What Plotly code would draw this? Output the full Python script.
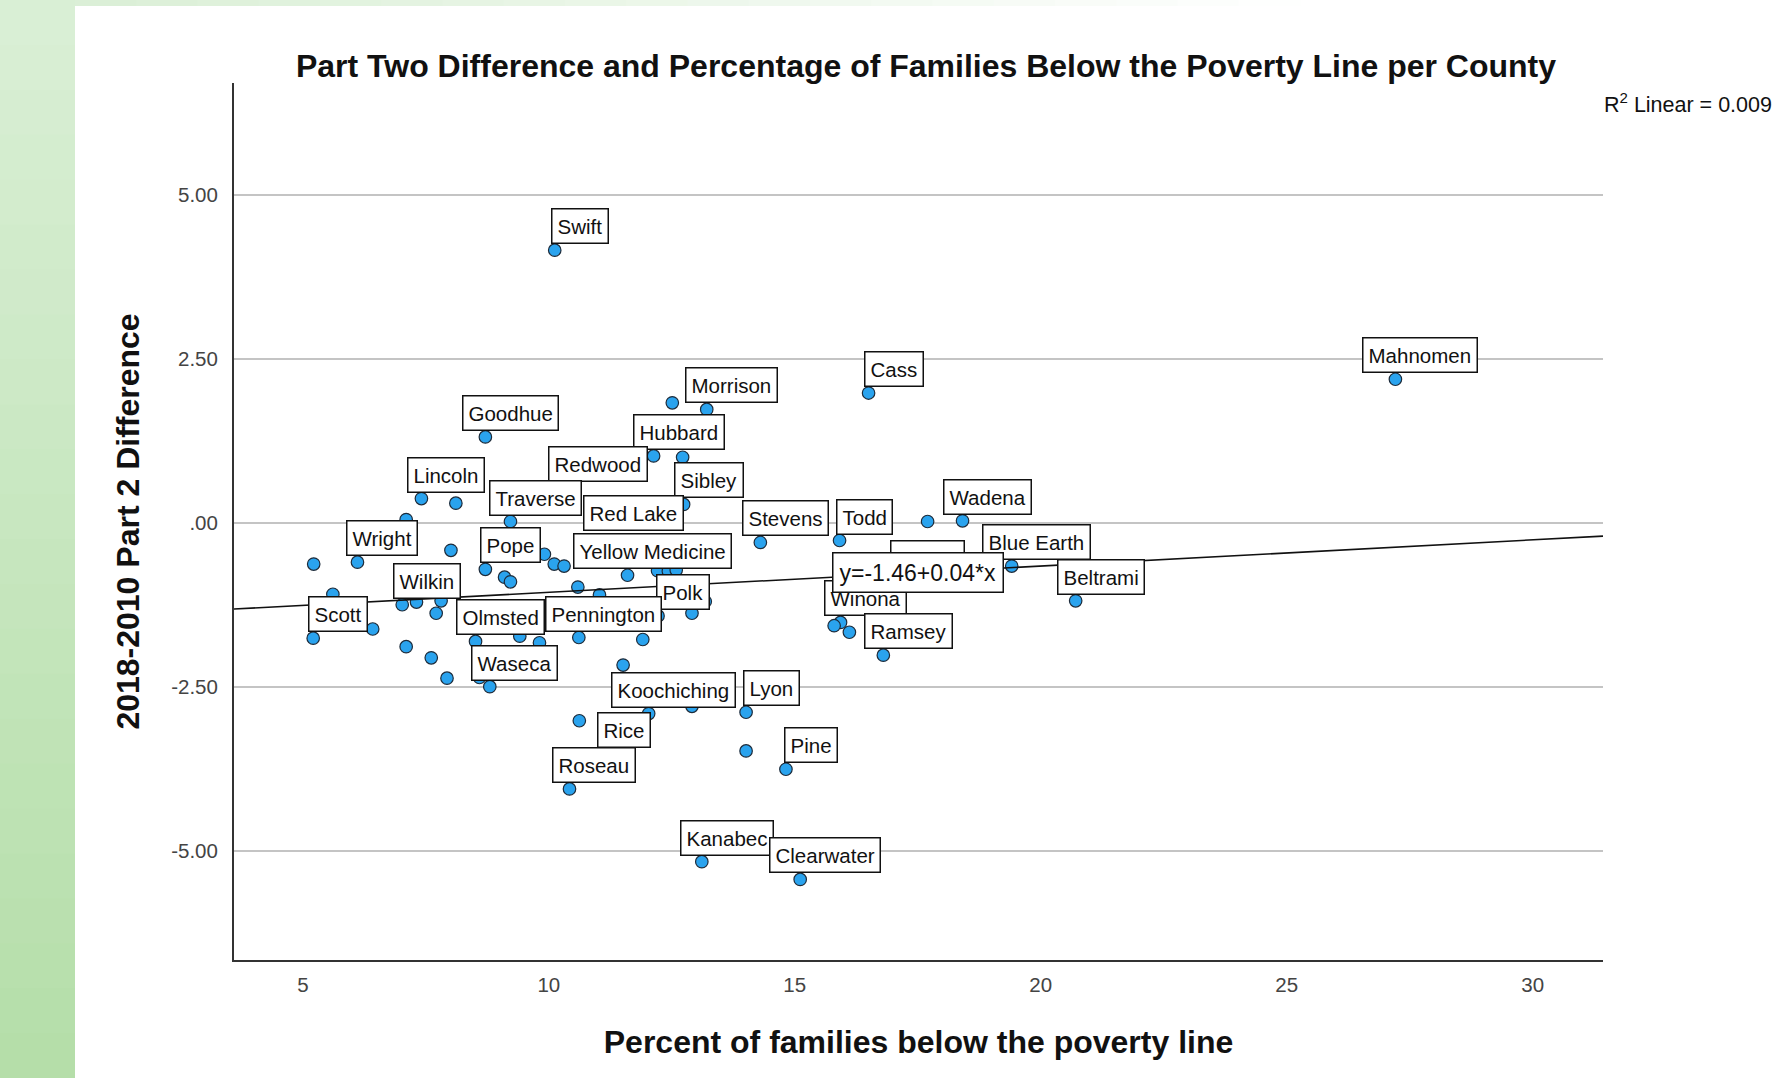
import plotly.graph_objects as go

# ---------------- data ----------------
county_labels = [
    "Swift", "Mahnomen", "Cass", "", "Morrison", "Goodhue", "Hubbard", "", "Redwood",
    "Lincoln", "", "Sibley", "", "Traverse", "", "Wadena", "Red Lake", "Todd", "Stevens",
    "", "", "Wright", "", "", "", "Blue Earth", "Pope", "", "", "", "Yellow Medicine",
    "", "", "\u00a0", "", "", "", "Beltrami", "", "", "", "Wilkin", "", "", "Polk",
    "Winona", "", "", "", "", "Pennington", "Scott", "", "Olmsted", "", "", "Ramsey",
    "", "", "", "", "Waseca", "", "Lyon", "Koochiching", "", "Rice", "", "Pine",
    "Roseau", "Kanabec", "Clearwater",
]
poverty_pct = [
    10.12, 27.21, 16.50, 12.51, 13.21, 8.71, 12.13, 12.72, 10.49,
    7.41, 8.11, 12.74, 7.10, 9.22, 17.70, 18.41, 11.21, 15.91, 14.30,
    8.01, 9.91, 6.11, 5.22, 10.11, 10.31, 19.41, 8.71, 12.21, 12.43, 12.59, 11.60,
    9.10, 9.22, 17.19, 10.59, 5.61, 11.03, 20.71, 7.81, 7.31, 13.18, 7.02, 7.71, 12.91, 12.22,
    15.93, 15.80, 6.42, 16.11, 9.41, 10.61, 5.21, 11.91, 8.51, 9.81, 7.10, 16.80,
    7.61, 11.51, 8.59, 7.93, 8.80, 12.91, 14.01, 12.03, 10.62, 11.02, 14.01, 14.82,
    10.42, 13.11, 15.11,
]
part2_diff = [
    4.16, 2.19, 1.98, 1.83, 1.73, 1.31, 1.02, 1.00, 0.53,
    0.37, 0.30, 0.28, 0.05, 0.02, 0.02, 0.03, -0.34, -0.27, -0.30,
    -0.42, -0.48, -0.60, -0.63, -0.63, -0.66, -0.66, -0.71, -0.73, -0.74, -0.72, -0.80,
    -0.83, -0.90, -0.91, -0.98, -1.09, -1.10, -1.19, -1.19, -1.21, -1.20, -1.25, -1.38, -1.38, -1.42,
    -1.52, -1.57, -1.62, -1.67, -1.73, -1.75, -1.76, -1.78, -1.81, -1.83, -1.89, -2.02,
    -2.06, -2.17, -2.36, -2.37, -2.50, -2.80, -2.89, -2.91, -3.02, -3.52, -3.48, -3.76,
    -4.06, -5.17, -5.44,
]

fit_intercept = -1.46
fit_slope = 0.04
r2_linear = 0.009
equation_at_x = 17.5

x_range = [3.60, 31.43]
y_range = [-6.67, 6.71]
x_ticks = [5, 10, 15, 20, 25, 30]
y_ticks = [5.0, 2.5, 0.0, -2.5, -5.0]
y_tick_text = ["5.00", "2.50", ".00", "-2.50", "-5.00"]

title_text = "Part Two Difference and Percentage of Families Below the Poverty Line per County"
x_title = "Percent of families below the poverty line"
y_title = "2018-2010 Part 2 Difference"

# ---------------- layout geometry (pixels) ----------------
W, H = 1774, 1078
PL, PR, PT, PB = 234, 1603, 83, 960   # plot area edges
FONT = "Liberation Sans, Arial, sans-serif"
LABEL_OFFSET = (25, -24)
label_offset_overrides = {"Red Lake": (25, -32)}


def px_to_paper_x(px):
    return (px - PL) / (PR - PL)


def px_to_paper_y(py):
    return (PB - py) / (PB - PT)


fig = go.Figure()

# scatter points
fig.add_trace(go.Scatter(
    x=poverty_pct, y=part2_diff, mode="markers",
    marker=dict(size=12.5, color="#2aa3ee", line=dict(color="#1d2b3a", width=1.2)),
    hoverinfo="skip", showlegend=False,
))

# linear fit line
fit_x = list(x_range)
fit_y = [fit_intercept + fit_slope * v for v in fit_x]
fig.add_trace(go.Scatter(
    x=fit_x, y=fit_y, mode="lines",
    line=dict(color="#111111", width=1.6),
    hoverinfo="skip", showlegend=False,
))

annotations = []
for name, xv, yv in zip(county_labels, poverty_pct, part2_diff):
    if not name:
        continue
    ax, ay = label_offset_overrides.get(name, LABEL_OFFSET)
    ann = dict(
        x=xv, y=yv, xref="x", yref="y", text=name,
        showarrow=True, arrowcolor="rgba(0,0,0,0)", arrowwidth=0.1,
        ax=ax, ay=ay,
        font=dict(family=FONT, size=20.5, color="#111111"),
        bgcolor="white", bordercolor="#111111", borderwidth=1.5, borderpad=5,
    )
    if name == "\u00a0":
        ann["width"] = 62
    annotations.append(ann)

# regression equation label (on the fit line)
annotations.append(dict(
    x=equation_at_x, y=fit_intercept + fit_slope * equation_at_x, xref="x", yref="y",
    text=f"y={fit_intercept:.2f}+{fit_slope:.2f}*x", showarrow=False,
    font=dict(family=FONT, size=23, color="#111111"),
    bgcolor="white", bordercolor="#111111", borderwidth=1.5, borderpad=6,
))

# R^2 text
annotations.append(dict(
    x=px_to_paper_x(1602), y=px_to_paper_y(103), xref="paper", yref="paper",
    text=f"R<sup>2</sup> Linear = {r2_linear:.3f}", showarrow=False,
    xanchor="left", yanchor="middle",
    font=dict(family=FONT, size=21.5, color="#111111"),
))

# background: green strips (left and top) around white canvas
shapes = []
n_bands = 24
top_c = (218, 239, 214)
bot_c = (180, 222, 168)
for i in range(n_bands):
    t = (i + 0.5) / n_bands
    c = tuple(round(top_c[k] + (bot_c[k] - top_c[k]) * t) for k in range(3))
    y0_px = H * i / n_bands
    y1_px = H * (i + 1) / n_bands
    shapes.append(dict(
        type="rect", xref="paper", yref="paper", layer="below",
        x0=px_to_paper_x(0), x1=px_to_paper_x(75),
        y0=px_to_paper_y(y1_px + 1), y1=px_to_paper_y(y0_px),
        fillcolor="rgb(%d,%d,%d)" % c, line=dict(width=0),
    ))
n_top = 20
for i in range(n_top):
    t = (i + 0.5) / n_top
    c = tuple(round(top_c[k] + (255 - top_c[k]) * t) for k in range(3))
    x0_px = 75 + (1300 - 75) * i / n_top
    x1_px = 75 + (1300 - 75) * (i + 1) / n_top
    shapes.append(dict(
        type="rect", xref="paper", yref="paper", layer="below",
        x0=px_to_paper_x(x0_px), x1=px_to_paper_x(x1_px + 1),
        y0=px_to_paper_y(6), y1=px_to_paper_y(0),
        fillcolor="rgb(%d,%d,%d)" % c, line=dict(width=0),
    ))

fig.update_layout(
    width=W, height=H,
    margin=dict(l=PL, r=W - PR, t=PT, b=H - PB, pad=0),
    paper_bgcolor="white", plot_bgcolor="white",
    font=dict(family=FONT, color="#111111"),
    title=dict(
        text=title_text, x=px_to_paper_x(926), xref="paper", xanchor="center",
        y=1 - 65.6 / H, yref="container", yanchor="middle",
        font=dict(family=FONT, size=32, color="#111111", weight="bold"),
    ),
    xaxis=dict(
        range=x_range, tickvals=x_ticks, ticks="", showgrid=False, zeroline=False,
        showline=True, linecolor="#333333", linewidth=2, mirror=False,
        tickfont=dict(family=FONT, size=20.5, color="#444444"),
        ticklabelstandoff=5,
        title=dict(text=x_title, standoff=36,
                   font=dict(family=FONT, size=32, color="#111111", weight="bold")),
    ),
    yaxis=dict(
        range=y_range, tickvals=y_ticks, ticktext=y_tick_text, ticks="",
        showgrid=True, gridcolor="#c4c4c4", gridwidth=1.5, zeroline=False,
        showline=True, linecolor="#333333", linewidth=2, mirror=False,
        tickfont=dict(family=FONT, size=20.5, color="#444444"),
        ticklabelstandoff=10,
        title=dict(text=y_title, standoff=22,
                   font=dict(family=FONT, size=32, color="#111111", weight="bold")),
    ),
    annotations=annotations,
    shapes=shapes,
    showlegend=False,
)

fig.write_html(
    "out.html", include_plotlyjs=True, full_html=True,
    config={"displayModeBar": False},
    post_script="document.body.style.margin='0';document.body.style.overflow='hidden';",
)
